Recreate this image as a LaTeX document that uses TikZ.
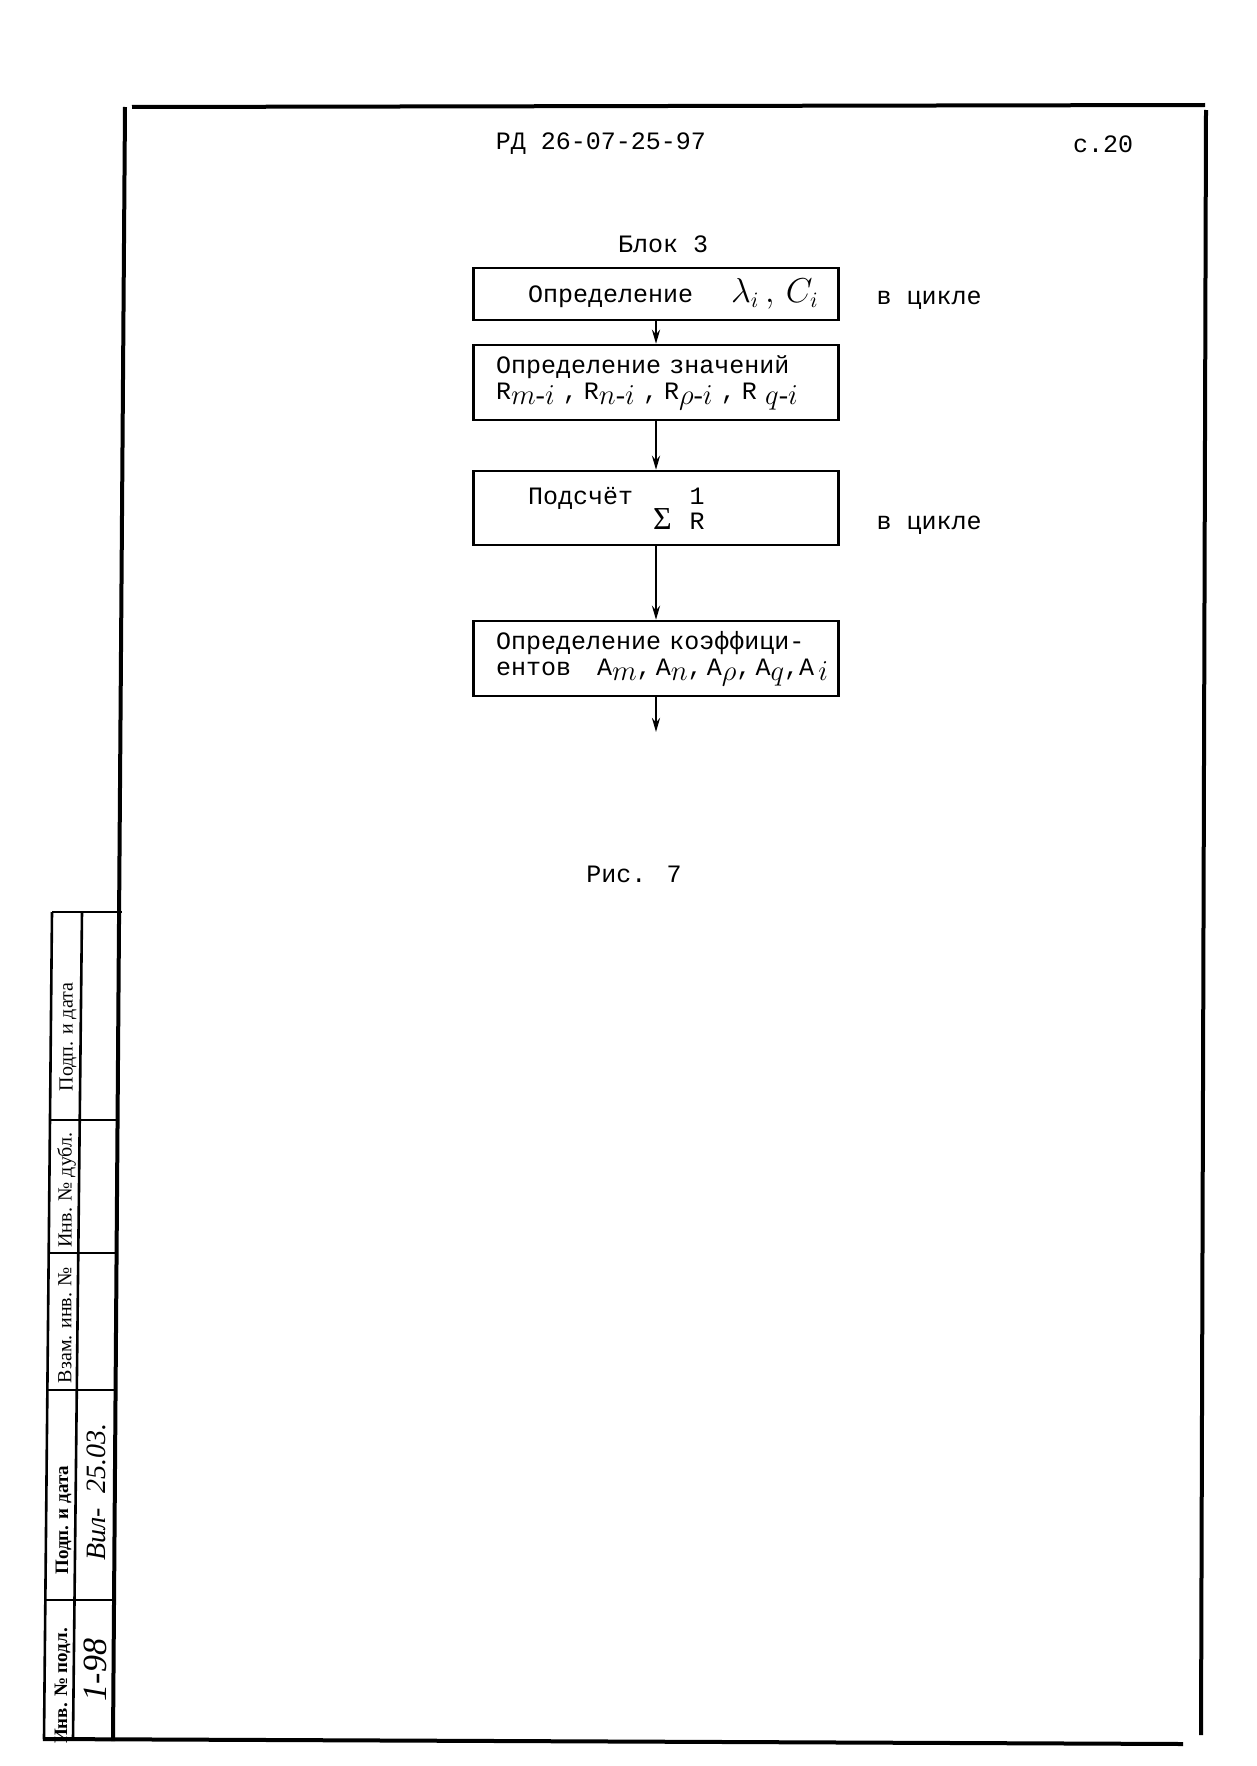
\documentclass[tikz,border=0pt]{standalone}
\usepackage{fontspec}
\setmainfont{Liberation Mono}
\newfontfamily\serifcyr{Liberation Serif}
\usetikzlibrary{arrows.meta}
\newcommand{\lowsub}[1]{\raisebox{-2.5pt}{\fontsize{14}{14}\selectfont$#1$}}
\newcommand{\guion}{\mbox{\serifcyr -}}

\begin{document}
\begin{tikzpicture}[x=0.5pt,y=-0.5pt,
  every node/.style={inner sep=0pt,font=\fontsize{12.5}{13}\selectfont},
  bloque/.style={draw=black,line width=1.2pt,minimum width=182.5pt,text width=160pt,inner xsep=11.25pt,align=left},
  flecha/.style={line width=1.4pt,-{Stealth[length=7pt,width=4pt]}},
  marco/.style={line width=2pt},
  linea/.style={line width=1.3pt},
  sello/.style={rotate=90,font=\serifcyr\fontsize{10}{10}\selectfont},
  sellob/.style={rotate=90,font=\serifcyr\bfseries\fontsize{9.5}{10}\selectfont},
  firma/.style={rotate=90,font=\serifcyr\itshape\fontsize{14}{14}\selectfont}]
  \useasboundingbox (0,0) rectangle (1257,1766);

  % Marco de la hoja
  \draw[marco] (132,107) -- (1205,105);
  \draw[marco] (125,107) -- (113,1741);
  \draw[marco] (1206,110) -- (1201,1735);
  \draw[marco] (43,1739) -- (1183,1744);

  % Encabezado
  \node (rd) at (601,144) {РД 26-07-25-97};
  \node (pag) at (1103,144) {с.20};

  % Bloques del diagrama
  \node (blk) at (663,244) {Блок 3};
  \node[bloque,minimum height=26pt] (b1) at (656,294)
    {\mbox{\hspace*{16pt}Определение\hspace{19pt}{\fontsize{16}{16}\selectfont$\lambda_i\,,\,C_i$}}};
  \node[bloque,minimum height=37.5pt] (b2) at (656,382.5)
    {\mbox{Определение значений}\\
     \mbox{R\lowsub{m\guion i}\ ,\hspace{3pt}R\lowsub{n\guion i}\ ,\hspace{3pt}R\lowsub{\rho\guion i}\ ,\hspace{3pt}R\ \lowsub{q\guion i}}};
  \node[bloque,minimum height=37pt] (b3) at (656,508)
    {\mbox{\hspace*{16pt}Подсчёт\hspace{10pt}\raisebox{-12.5pt}{\serifcyr\fontsize{16}{16}\selectfont Σ}\hspace{9pt}\rlap{1}\raisebox{-12.5pt}{R}}};
  \node[bloque,minimum height=37.5pt] (b4) at (656,658.5)
    {\mbox{Определение коэффици-}\\
     \mbox{ентов\hspace{13pt}A\lowsub{m},\,A\lowsub{n},\,A\lowsub{\rho},\,A\lowsub{q},A\,\lowsub{i}}};
  \coordinate (fin) at (656,732);

  % Notas a la derecha
  \node (cic1) at (929,300) {в цикле};
  \node (cic2) at (929,525) {в цикле};

  % Flechas entre bloques
  \foreach \from/\to in {b1/b2, b2/b3, b3/b4, b4/fin}
    \draw[flecha] (\from) -- (\to);

  % Pie de figura
  \node (ris) at (634,874) {Рис. 7};

  % Sello lateral
  \draw[linea] (52,912) -- (44,1739);
  \draw[linea] (82,912) -- (73,1739);
  \draw[linea] (52,912) -- (122,912);
  \draw[linea] (50,1120) -- (117.6,1120);
  \draw[linea] (48.7,1253) -- (116.6,1253);
  \draw[linea] (47.4,1390) -- (115.6,1390);
  \draw[linea] (45.3,1600) -- (114,1600);

  \node[sello] (s1) at (68,1037) {Подп. и дата};
  \node[sello] (s2) at (66.5,1190) {Инв. № дубл.};
  \node[sello] (s3) at (65,1325) {Взам. инв. №};
  \node[sellob] (s4) at (63.5,1520) {Подп. и дата};
  \node[sellob] (s5) at (62.5,1686) {Инв. № подл.};
  \node[firma] (f1) at (96,1492) {Вил-\ \ 25.03.};
  \node[firma,font=\serifcyr\itshape\fontsize{17}{17}\selectfont] (f2) at (95,1670) {1-98};
\end{tikzpicture}
\end{document}
